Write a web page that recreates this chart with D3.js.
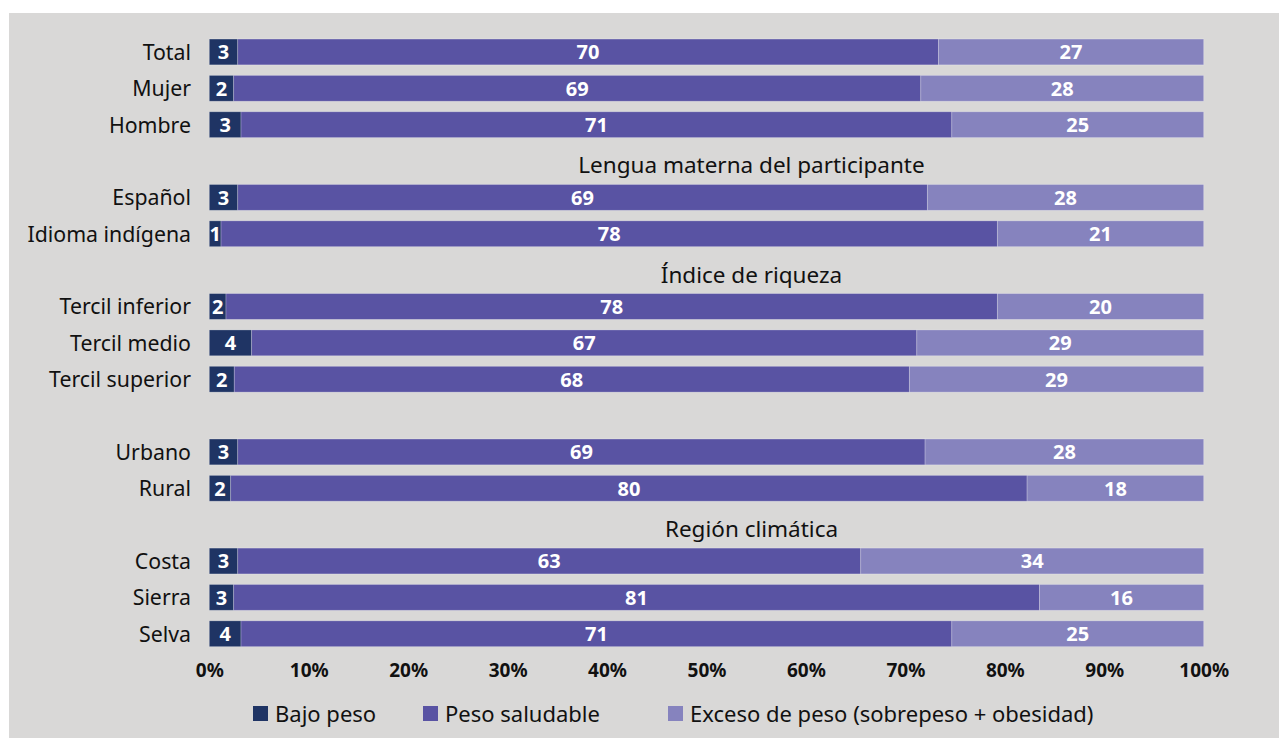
<!DOCTYPE html>
<html>
<head>
<meta charset="utf-8">
<script src="https://cdn.jsdelivr.net/npm/d3@7"></script>
<style>
  body { margin: 0; background: #fff; }
  svg { display: block; font-family: "Noto Sans", sans-serif; }
</style>
</head>
<body>
<div id="chart"></div>
<script>
// rows in drawing order; "h:" rows carry a section title, "h:" alone is a blank slot
const rows = ["Total", "Mujer", "Hombre", "h:Lengua materna del participante", "Español", "Idioma indígena",
    "h:Índice de riqueza", "Tercil inferior", "Tercil medio", "Tercil superior", "h:",
    "Urbano", "Rural", "h:Región climática", "Costa", "Sierra", "Selva"];
const categories = ["Total", "Mujer", "Hombre", "Español", "Idioma indígena", "Tercil inferior", "Tercil medio",
    "Tercil superior", "Urbano", "Rural", "Costa", "Sierra", "Selva"];

const bajoPeso = [2.86, 2.45, 3.19, 2.86, 1.18, 1.68, 4.26, 2.51, 2.86, 2.15, 2.86, 2.45, 3.19];
const pesoSaludable = [70.46, 69.10, 71.48, 69.35, 78.07, 77.57, 66.89, 67.89, 69.12, 80.09, 62.65, 81.03, 71.48];
const excesoPeso = [26.68, 28.45, 25.33, 27.79, 20.75, 20.75, 28.85, 29.60, 28.02, 17.76, 34.49, 16.52, 25.33];

const labelsBajo = [3, 2, 3, 3, 1, 2, 4, 2, 3, 2, 3, 3, 4];
const labelsSaludable = [70, 69, 71, 69, 78, 78, 67, 68, 69, 80, 63, 81, 71];
const labelsExceso = [27, 28, 25, 28, 21, 20, 29, 29, 28, 18, 34, 16, 25];

const seriesNames = ["Bajo peso", "Peso saludable", "Exceso de peso (sobrepeso + obesidad)"];
const colors = ["#1f3464", "#5953a3", "#8683be"];
const ticks = [0, 10, 20, 30, 40, 50, 60, 70, 80, 90, 100];

const width = 1279, height = 738;
const svg = d3.select("#chart").append("svg")
    .attr("width", width)
    .attr("height", height);

// gray panel
svg.append("rect")
    .attr("x", 9).attr("y", 13)
    .attr("width", width - 9).attr("height", height - 13)
    .attr("fill", "#d9d8d7");

const x = d3.scaleLinear().domain([0, 100]).range([209.3, 1203.7]);
const y = d3.scaleBand()
    .domain(d3.range(rows.length))
    .range([28.5, 657.2])
    .padding(0.29);

const data = categories.map((c, i) => {
    const vals = [bajoPeso[i], pesoSaludable[i], excesoPeso[i]];
    const labs = [labelsBajo[i], labelsSaludable[i], labelsExceso[i]];
    let acc = 0;
    const segs = vals.map((v, k) => {
        const s = {k: k, x0: acc, x1: acc + v, label: labs[k]};
        acc += v;
        return s;
    });
    return {name: c, row: rows.indexOf(c), segs: segs};
});

// section headers
svg.append("g").selectAll("text")
    .data(rows.map((r, i) => ({r, i})).filter(d => d.r.startsWith("h:")))
    .join("text")
    .attr("x", (x(0) + x(100)) / 2 + 45)
    .attr("y", d => y(d.i) + y.bandwidth() / 2)
    .attr("dy", "0.55em")
    .attr("text-anchor", "middle")
    .attr("font-size", 22.5)
    .attr("fill", "#111")
    .text(d => d.r.slice(2));

// category labels
svg.append("g").selectAll("text")
    .data(data)
    .join("text")
    .attr("x", 191)
    .attr("y", d => y(d.row) + y.bandwidth() / 2)
    .attr("dy", "0.37em")
    .attr("text-anchor", "end")
    .attr("font-size", 21.3)
    .attr("fill", "#111")
    .text(d => d.name);

const bars = svg.append("g").selectAll("g")
    .data(data)
    .join("g")
    .attr("transform", d => `translate(0, ${y(d.row)})`);

bars.selectAll("rect")
    .data(d => d.segs)
    .join("rect")
    .attr("x", d => x(d.x0))
    .attr("width", d => x(d.x1) - x(d.x0))
    .attr("height", y.bandwidth())
    .attr("fill", d => colors[d.k])
    .attr("stroke", "rgba(255,255,255,0.3)")
    .attr("stroke-width", 0.8);

bars.selectAll("text")
    .data(d => d.segs)
    .join("text")
    .attr("x", d => (x(d.x0) + x(d.x1)) / 2)
    .attr("y", y.bandwidth() / 2)
    .attr("dy", "0.37em")
    .attr("text-anchor", "middle")
    .attr("font-size", 20)
    .attr("font-weight", "bold")
    .attr("fill", "#fff")
    .text(d => d.label);

// x axis
const xAxis = d3.axisBottom(x)
    .tickValues(ticks)
    .tickSize(0)
    .tickPadding(0)
    .tickFormat(d => d + "%");

const ax = svg.append("g")
    .attr("transform", "translate(0, 661)")
    .call(xAxis);
ax.select(".domain").remove();
ax.selectAll("text")
    .attr("y", 0)
    .attr("dy", "0.85em")
    .attr("font-family", "Noto Sans, sans-serif")
    .attr("font-size", 19)
    .attr("font-weight", "bold")
    .attr("fill", "#111");

// legend
const legendX = [253, 423, 668];
const legend = svg.append("g").selectAll("g")
    .data(seriesNames)
    .join("g")
    .attr("transform", (d, i) => `translate(${legendX[i]}, 706)`);
legend.append("rect")
    .attr("width", 15).attr("height", 15)
    .attr("fill", (d, i) => colors[i]);
legend.append("text")
    .attr("x", 22)
    .attr("y", 16)
    .attr("font-size", 22)
    .attr("fill", "#111")
    .text(d => d);
</script>
</body>
</html>
